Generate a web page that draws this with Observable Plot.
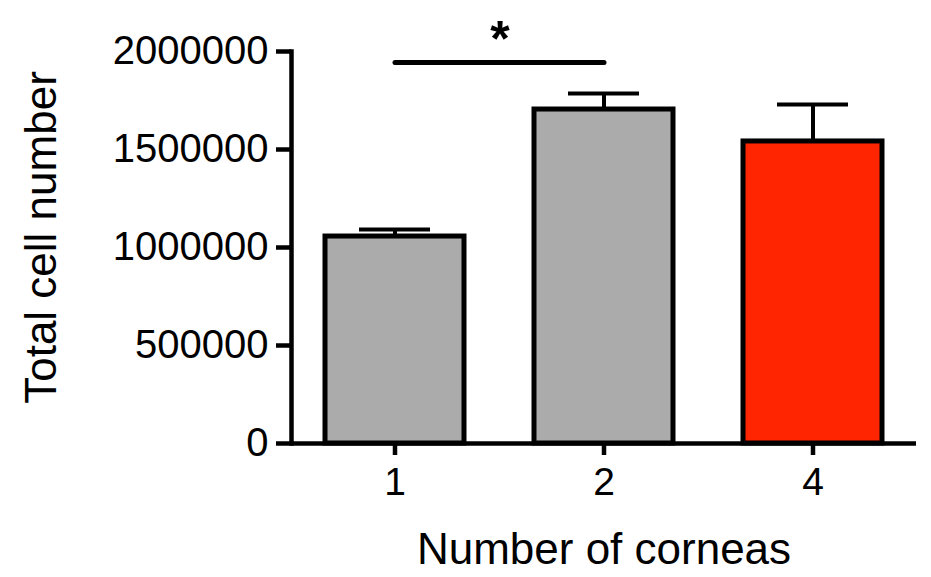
<!DOCTYPE html>
<html>
<head>
<meta charset="utf-8">
<script src="https://cdn.jsdelivr.net/npm/d3@7"></script>
<script src="https://cdn.jsdelivr.net/npm/@observablehq/plot@0.6"></script>
<style>
  html, body { margin: 0; padding: 0; background: #fff; }
</style>
</head>
<body>
<div id="chart"></div>
<script>
// Data
const categories = ["1", "2", "4"];
const means = [1056000, 1704000, 1541000];
const errors = [36000, 82000, 189000];
const fills = ["#ababab", "#ababab", "#ff2500"];
const yTicks = [0, 500000, 1000000, 1500000, 2000000];
const sigPair = ["1", "2"];
const sigValue = 1944000;
const sigLabel = "*";
const xTitle = "Number of corneas";
const yTitle = "Total cell number";

const data = categories.map((c, i) => ({cat: c, mean: means[i], top: means[i] + errors[i], fill: fills[i]}));
const sigData = sigPair.map(c => ({cat: c, y: sigValue}));

const W = 931, H = 577;
const mL = 291, mR = 15, mT = 51, mB = 134;
const font = "Liberation Sans, Arial, Helvetica, sans-serif";

const plot = Plot.plot({
  width: W,
  height: H,
  marginLeft: mL,
  marginRight: mR,
  marginTop: mT,
  marginBottom: mB,
  style: {fontFamily: font, background: "#fff", color: "#000"},
  x: {domain: categories, paddingInner: 0.333, paddingOuter: 0.157, axis: null},
  y: {domain: [0, 2000000], axis: null},
  color: {type: "identity"},
  marks: [
    Plot.barY(data, {x: "cat", y: "mean", fill: "fill", stroke: "#000", strokeWidth: 5, strokeLinejoin: "miter"}),
    Plot.ruleX(data, {x: "cat", y1: "mean", y2: "top", stroke: "#000", strokeWidth: 4}),
    Plot.tickY(data, {x: "cat", y: "top", stroke: "#000", strokeWidth: 4, insetLeft: 34, insetRight: 34}),
    Plot.line(sigData, {x: "cat", y: "y", stroke: "#000", strokeWidth: 5, strokeLinecap: "round"}),
    Plot.text([sigLabel], {x: () => sigPair[0], y: () => sigValue, dx: 105, dy: -22, fontSize: 50, fontWeight: "bold", lineAnchor: "middle"}),
    Plot.ruleY([0], {stroke: "#000", strokeWidth: 4.5}),
    Plot.frame({anchor: "left", stroke: "#000", strokeWidth: 4.5, strokeLinecap: "square"}),
    Plot.axisY(yTicks, {tickSize: 15, tickPadding: 8, strokeWidth: 4.5, fontSize: 40, tickFormat: d => String(d), label: null, color: "#000"}),
    Plot.axisX(categories, {tickSize: 12, tickPadding: 12, strokeWidth: 4.5, fontSize: 39, label: null, color: "#000"}),
    Plot.text([xTitle], {frameAnchor: "bottom", dy: 106, fontSize: 44, lineAnchor: "middle", fill: "#000"}),
    Plot.text([yTitle], {frameAnchor: "left", textAnchor: "middle", rotate: -90, dx: -250, dy: -10, fontSize: 44, lineAnchor: "middle", fill: "#000"})
  ]
});
document.getElementById("chart").appendChild(plot);
</script>
</body>
</html>
